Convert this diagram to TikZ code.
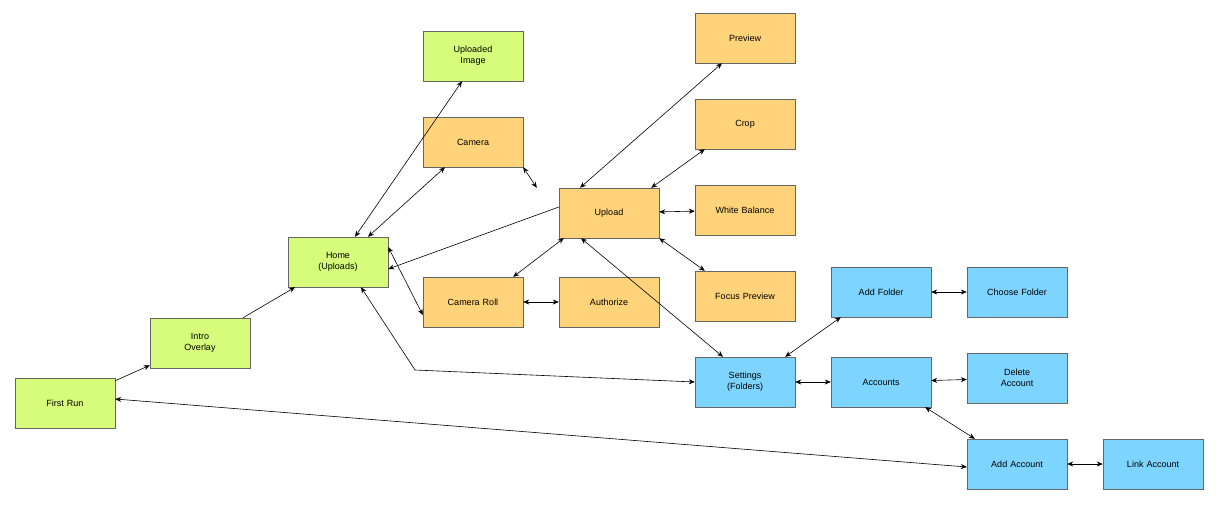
\documentclass[tikz,border=0pt]{standalone}
\usepackage{fontspec}
\setmainfont{Liberation Sans}
\usetikzlibrary{arrows.meta}
\definecolor{gr}{HTML}{D7FB7A}
\definecolor{og}{HTML}{FFD37A}
\definecolor{bl}{HTML}{7DD4FF}
\begin{document}
\begin{tikzpicture}[x=1pt,y=-1pt,
  box/.style={draw=black!60,minimum width=100pt,minimum height=50pt,inner sep=2pt,align=center,font=\fontsize{9}{11}\selectfont,text width=94pt},
  g/.style={box,fill=gr}, o/.style={box,fill=og}, b/.style={box,fill=bl},
  e/.style={{Stealth[length=6pt,width=5pt]}-{Stealth[length=6pt,width=5pt]},black,line width=0.6pt},
  s/.style={-{Stealth[length=6pt,width=5pt]},black,line width=0.6pt}]
\useasboundingbox (0,0) rectangle (1218,507);
\node[g] (first) at (65,403) {First Run};
\node[g] (intro) at (200,343) {Intro\\Overlay};
\node[g] (home) at (338,262) {Home\\(Uploads)};
\node[g] (upimg) at (473,56) {Uploaded\\Image};
\node[o] (camera) at (473,142) {Camera};
\node[o] (upload) at (609,213) {Upload};
\node[o] (roll) at (473,302) {Camera Roll};
\node[o] (auth) at (609,302) {Authorize};
\node[o] (preview) at (745,38) {Preview};
\node[o] (crop) at (745,124) {Crop};
\node[o] (wb) at (745,210) {White Balance};
\node[o] (focus) at (745,296) {Focus Preview};
\node[b] (settings) at (745,382) {Settings\\(Folders)};
\node[b] (addf) at (881,292) {Add Folder};
\node[b] (choose) at (1017,292) {Choose Folder};
\node[b] (acc) at (881,382) {Accounts};
\node[b] (del) at (1017,378) {Delete\\Account};
\node[b] (adda) at (1017,464) {Add Account};
\node[b] (link) at (1153,464) {Link Account};
\coordinate (bend) at (415,370);
\draw[s] (first) -- (intro);
\draw[s] (intro) -- (home);
\draw[e] ([xshift=17pt]home.north) -- ([xshift=-11pt]upimg.south);
\draw[e] ([xshift=30pt]home.north) -- ([xshift=-28pt]camera.south);
\draw[e] (camera.south east) -- ([xshift=-22pt]upload.north west);
\draw[s] ([yshift=6pt]upload.west) -- ([yshift=-7pt]home.east);
\draw[e] ([xshift=5pt]upload.south west) -- ([xshift=-10pt]roll.north east);
\draw[e] (roll) -- (auth);
\draw[e] ([yshift=15pt]home.east) -- ([yshift=-13pt]roll.west);
\draw[e] ([xshift=-29pt]upload.north) -- ([xshift=-23pt]preview.south);
\draw[e] ([xshift=-8pt]upload.north east) -- ([xshift=10pt]crop.south west);
\draw[e] (upload) -- (wb);
\draw[e] (upload.south east) -- ([xshift=10pt]focus.north west);
\draw[e] ([xshift=-28pt]upload.south) -- ([xshift=-22pt]settings.north);
\draw[e] ([xshift=23pt]home.south) -- (bend) -- (settings.west);
\draw[e] ([xshift=-10pt]settings.north east) -- ([xshift=10pt]addf.south west);
\draw[e] (settings) -- (acc);
\draw[e] (addf) -- (choose);
\draw[e] (acc) -- (del);
\draw[e] ([xshift=-6pt]acc.south east) -- ([xshift=8pt]adda.north west);
\draw[e] (adda) -- (link);
\draw[e] ([yshift=4pt]first.east) -- ([yshift=-3pt]adda.west);
\end{tikzpicture}
\end{document}
